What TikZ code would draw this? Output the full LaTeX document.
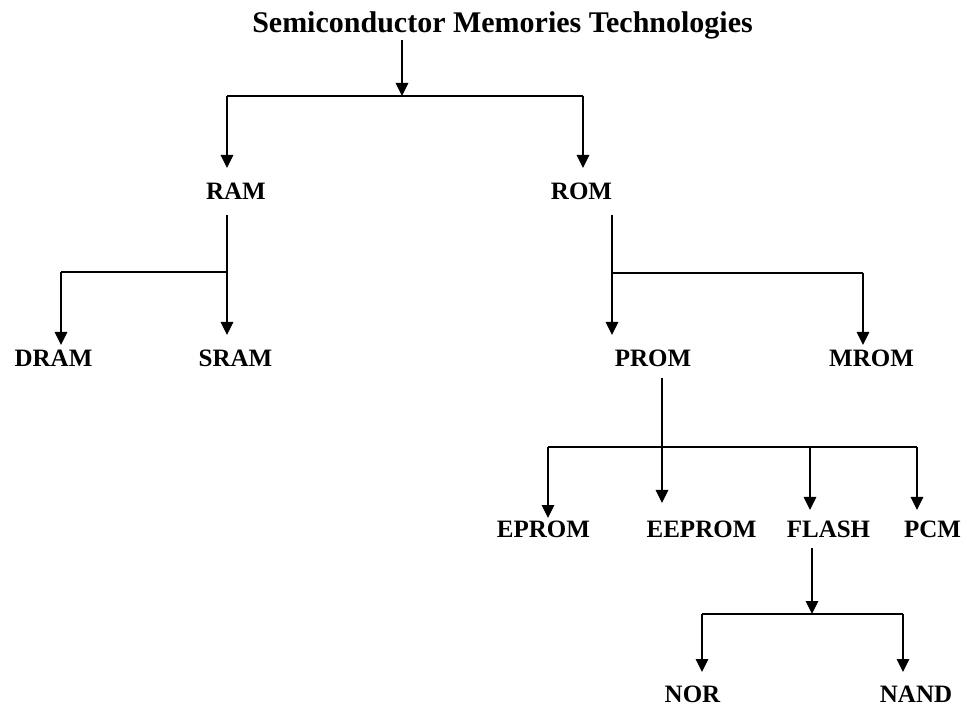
\documentclass[tikz,border=0pt]{standalone}
\usepackage{fontspec}
\setmainfont{Liberation Serif}
\usetikzlibrary{arrows.meta,calc}
\begin{document}
\begin{tikzpicture}[x=1pt,y=-1pt,
  lab/.style={font=\fontsize{25}{28}\selectfont\bfseries, inner sep=0pt, anchor=base},
  ttl/.style={font=\fontsize{30}{34}\selectfont\bfseries, inner sep=0pt, anchor=base},
  ln/.style={line width=1.4pt, black},
  arr/.style={ln, -{Triangle[width=12.5pt,length=13pt]}}]
\useasboundingbox (0,0) rectangle (967,708);
% nodes
\node[ttl] (title) at (502.5,33) {Semiconductor Memories Technologies};
\node[lab] (ram) at (236,200) {RAM};
\node[lab] (rom) at (581.5,200) {ROM};
\node[lab] (dram) at (53.5,367) {DRAM};
\node[lab] (sram) at (235.5,367) {SRAM};
\node[lab] (prom) at (653,367) {PROM};
\node[lab] (mrom) at (871.5,367) {MROM};
\node[lab] (eprom) at (543.5,537) {EPROM};
\node[lab] (eeprom) at (701.5,537) {EEPROM};
\node[lab] (flash) at (828.5,537) {FLASH};
\node[lab] (pcm) at (932.5,537) {PCM};
\node[lab] (nor) at (692.5,702) {NOR};
\node[lab] (nand) at (916,702) {NAND};
% junctions
\coordinate (jA) at (402,96);
\coordinate (jAl) at (227,96);
\coordinate (jAr) at (583,96);
\coordinate (jB) at (227,272);
\coordinate (jBl) at (61,272);
\coordinate (jC) at (612,273);
\coordinate (jCr) at (863,273);
\coordinate (jD) at (662,447);
\coordinate (jDl) at (548,447);
\coordinate (jD3) at (810,447);
\coordinate (jDr) at (917,447);
\coordinate (jE) at (812,614);
\coordinate (jEl) at (702,614);
\coordinate (jEr) at (903,614);
% tips
\coordinate (tRAM) at (227,168);
\coordinate (tROM) at (583,168);
\coordinate (tSRAM) at (227,335);
\coordinate (tDRAM) at (61,345);
\coordinate (tPROM) at (612,335);
\coordinate (tMROM) at (863,345);
\coordinate (tEPROM) at (548,518);
\coordinate (tEEPROM) at (662,503);
\coordinate (tFLASH) at (810,510);
\coordinate (tPCM) at (917,510);
\coordinate (tNOR) at (702,672);
\coordinate (tNAND) at (903,672);
% level 1
\draw[arr] (title.south -| jA) -- (jA);
\draw[ln] (jAl) -- (jAr);
\draw[arr] (jAl) -- (tRAM);
\draw[arr] (jAr) -- (tROM);
% RAM
\draw[arr] ($(ram.south -| jB)+(0,15)$) -- (tSRAM);
\draw[ln] (jB) -- (jBl);
\draw[arr] (jBl) -- (tDRAM);
% ROM
\draw[arr] ($(rom.south -| jC)+(0,15)$) -- (tPROM);
\draw[ln] (jC) -- (jCr);
\draw[arr] (jCr) -- (tMROM);
% PROM
\draw[arr] ($(prom.south -| jD)+(0,11)$) -- (tEEPROM);
\draw[ln] (jDl) -- (jDr);
\draw[arr] (jDl) -- (tEPROM);
\draw[arr] (jD3) -- (tFLASH);
\draw[arr] (jDr) -- (tPCM);
% FLASH
\draw[arr] ($(flash.south -| jE)+(0,11)$) -- (jE);
\draw[ln] (jEl) -- (jEr);
\draw[arr] (jEl) -- (tNOR);
\draw[arr] (jEr) -- (tNAND);
\end{tikzpicture}
\end{document}
